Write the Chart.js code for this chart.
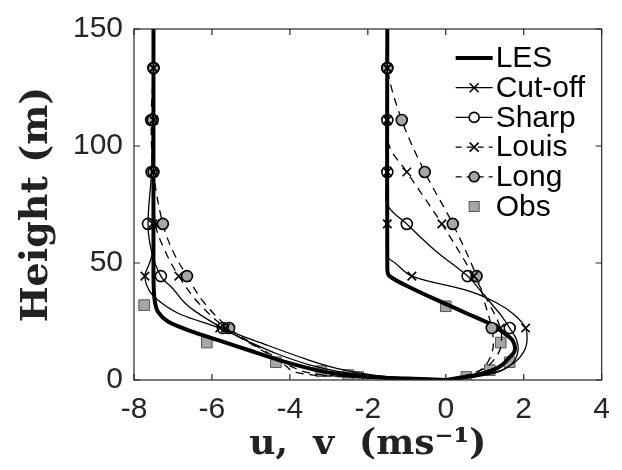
<!DOCTYPE html>
<html>
<head>
<meta charset="utf-8">
<script src="https://cdn.jsdelivr.net/npm/chart.js@4.4.0/dist/chart.umd.min.js"></script>
<style>
  body { margin: 0; background: #fff; }
</style>
</head>
<body>
<canvas id="profileChart" width="622" height="470"></canvas>
<script>
// Axis ticks
const xTicks = [-8, -6, -4, -2, 0, 2, 4];
const yTicks = [0, 50, 100, 150];

// Heights where the model markers are drawn
const markH = [22.2, 44.4, 66.7, 88.9, 111.1, 133.3];

// LES
const lesUh = [150, 45, 38, 33, 29, 25, 21, 16.8, 12.6, 8.4, 4.2, 2, 1, 0.4, 0];
const lesU  = [-7.5, -7.5, -7.49, -7.46, -7.38, -7.13, -6.56, -5.8, -5.03, -4.26, -3.3, -2.5, -1.6, -0.6, 0];
const lesVh = [150, 48, 44.5, 39, 33.6, 28, 24, 20, 16.8, 12.6, 9.7, 6.5, 4.2, 2, 0.8, 0];
const lesV  = [-1.5, -1.5, -1.45, -0.85, -0.15, 0.6, 1.13, 1.5, 1.72, 1.77, 1.64, 1.45, 1.2, 0.75, 0.28, 0];

// Cut-off
const cutUh = [150, 133.3, 111.1, 88.9, 66.7, 55, 50, 44.4, 38, 33, 28, 22.2, 16, 11, 6.5, 3, 1, 0];
const cutU  = [-7.5, -7.5, -7.5, -7.5, -7.52, -7.52, -7.6, -7.72, -7.6, -7.3, -6.8, -5.8, -5.0, -4.3, -3.5, -2.5, -1.2, 0];
const cutVh = [150, 133.3, 111.1, 88.9, 66.7, 53, 50, 44.4, 38, 33, 28, 22.2, 16, 12, 8, 4, 1.5, 0];
const cutV  = [-1.5, -1.5, -1.5, -1.5, -1.5, -1.5, -1.3, -0.87, 0.6, 1.3, 1.75, 2.05, 2.08, 2.0, 1.8, 1.4, 0.7, 0];

// Sharp
const shpUh = [150, 133.3, 111.1, 88.9, 66.7, 55, 44.4, 39, 33, 29, 22.2, 15, 9, 5, 2, 0.7, 0];
const shpU  = [-7.5, -7.5, -7.52, -7.55, -7.64, -7.55, -7.31, -7.0, -6.7, -6.4, -5.72, -4.6, -3.6, -2.8, -1.8, -0.8, 0];
const shpVh = [150, 133.3, 111.1, 88.9, 75, 66.7, 55, 44.4, 38, 33, 28, 22.2, 17, 12, 7, 3.5, 1.2, 0];
const shpV  = [-1.5, -1.5, -1.5, -1.5, -1.5, -1.0, -0.25, 0.56, 0.9, 1.15, 1.4, 1.64, 1.82, 1.85, 1.7, 1.35, 0.7, 0];

// Louis
const lsUh = [150, 133.3, 111.1, 88.9, 66.7, 55, 44.4, 33, 22.2, 15, 10, 6, 3.4, 1.5, 0];
const lsU  = [-7.5, -7.5, -7.5, -7.5, -7.45, -7.2, -6.85, -6.35, -5.65, -4.95, -4.45, -4.1, -3.9, -2.8, 0];
const lsVh = [150, 133.3, 111.1, 100, 88.9, 66.7, 44.4, 33, 22.2, 15, 10, 5, 2, 0];
const lsV  = [-1.5, -1.5, -1.5, -1.45, -1.0, -0.1, 0.72, 1.1, 1.4, 1.42, 1.3, 1.0, 0.55, 0];

// Long
const lngUh = [150, 133.3, 111.1, 88.9, 66.7, 55, 44.4, 33, 22.2, 15, 10, 6, 3, 1.2, 0];
const lngU  = [-7.5, -7.5, -7.56, -7.5, -7.26, -7.0, -6.64, -6.2, -5.56, -4.9, -4.4, -4.0, -3.5, -2.4, 0];
const lngVh = [150, 133.3, 111.1, 88.9, 66.7, 44.4, 33, 22.2, 15, 10, 5, 2, 0];
const lngV  = [-1.5, -1.5, -1.13, -0.54, 0.18, 0.79, 1.0, 1.18, 1.22, 1.15, 0.95, 0.55, 0];

// Observations
const obsUh = [32, 16, 7.6, 3.8, 2.1, 1.3];
const obsU  = [-7.74, -6.13, -4.36, -3.2, -2.5, -2.25];
const obsVh = [31.5, 16, 7.6, 4.2, 1.3];
const obsV  = [0.0, 1.41, 1.64, 1.13, 0.53];

const pts = (xs, hs) => xs.map((x, i) => ({ x: x, y: hs[i] }));
const atMark = r => c => (c.raw && markH.includes(c.raw.y)) ? r : 0;

const GREY = "#a6a6a6";
const DASH = [8, 6];

function model(label, xs, hs, style, dashed, fill) {
  return {
    label: label,
    data: pts(xs, hs),
    borderColor: "#000",
    borderWidth: 1.3,
    borderDash: dashed ? DASH : [],
    tension: 0.35,
    pointStyle: style,
    pointRadius: atMark(style === "crossRot" ? 6 : 5.5),
    pointBorderWidth: 1.6,
    pointBorderColor: "#000",
    pointBackgroundColor: fill,
    fill: false
  };
}

function les(xs, hs) {
  return {
    label: "LES",
    data: pts(xs, hs),
    borderColor: "#000",
    borderWidth: 4,
    tension: 0.3,
    pointRadius: 0,
    fill: false
  };
}

function obs(xs, hs) {
  return {
    label: "Obs",
    data: pts(xs, hs),
    showLine: false,
    pointStyle: "rect",
    pointRadius: 7.5,
    pointBorderWidth: 1,
    pointBorderColor: "#555",
    pointBackgroundColor: GREY
  };
}

const datasets = [
  model("Cut-off", cutU, cutUh, "crossRot", false, "#000"),
  model("Cut-off", cutV, cutVh, "crossRot", false, "#000"),
  model("Sharp", shpU, shpUh, "circle", false, "rgba(0,0,0,0)"),
  model("Sharp", shpV, shpVh, "circle", false, "rgba(0,0,0,0)"),
  model("Louis", lsU, lsUh, "crossRot", true, "#000"),
  model("Louis", lsV, lsVh, "crossRot", true, "#000"),
  model("Long", lngU, lngUh, "circle", true, GREY),
  model("Long", lngV, lngVh, "circle", true, GREY),
  les(lesU, lesUh),
  les(lesV, lesVh),
  obs(obsU, obsUh),
  obs(obsV, obsVh)
];

// Box with inward ticks on all four sides
const frame = {
  id: "frame",
  afterDatasetsDraw(chart) {
    const { ctx, chartArea: a, scales: { x, y } } = chart;
    ctx.save();
    ctx.strokeStyle = "#262626";
    ctx.lineWidth = 1.2;
    ctx.strokeRect(a.left, a.top, a.right - a.left, a.bottom - a.top);
    ctx.beginPath();
    xTicks.forEach(v => {
      const px = x.getPixelForValue(v);
      ctx.moveTo(px, a.bottom); ctx.lineTo(px, a.bottom - 6);
      ctx.moveTo(px, a.top); ctx.lineTo(px, a.top + 6);
    });
    yTicks.forEach(v => {
      const py = y.getPixelForValue(v);
      ctx.moveTo(a.left, py); ctx.lineTo(a.left + 6, py);
      ctx.moveTo(a.right, py); ctx.lineTo(a.right - 6, py);
    });
    ctx.stroke();
    ctx.restore();
  }
};

// Legend drawn inside the top-right corner
const legendItems = [
  { text: "LES", width: 4, dash: [], marker: null },
  { text: "Cut-off", width: 1.3, dash: [], marker: "x" },
  { text: "Sharp", width: 1.3, dash: [], marker: "o" },
  { text: "Louis", width: 1.3, dash: [6, 5], marker: "x" },
  { text: "Long", width: 1.3, dash: [6, 5], marker: "g" },
  { text: "Obs", width: 0, dash: [], marker: "s" }
];

const insideLegend = {
  id: "insideLegend",
  afterDraw(chart) {
    const { ctx, chartArea: a } = chart;
    const x0 = a.right - 146, x1 = a.right - 109, xm = (x0 + x1) / 2;
    ctx.save();
    legendItems.forEach((it, i) => {
      const yy = a.top + 29 + i * 29.7;
      ctx.strokeStyle = "#000";
      if (it.width) {
        ctx.lineWidth = it.width;
        ctx.setLineDash(it.dash);
        ctx.beginPath();
        ctx.moveTo(x0, yy); ctx.lineTo(x1, yy);
        ctx.stroke();
        ctx.setLineDash([]);
      }
      ctx.lineWidth = 1.6;
      if (it.marker === "x") {
        ctx.beginPath();
        ctx.moveTo(xm - 4.5, yy - 4.5); ctx.lineTo(xm + 4.5, yy + 4.5);
        ctx.moveTo(xm - 4.5, yy + 4.5); ctx.lineTo(xm + 4.5, yy - 4.5);
        ctx.stroke();
      } else if (it.marker === "o" || it.marker === "g") {
        ctx.beginPath();
        ctx.arc(xm, yy, 5, 0, Math.PI * 2);
        if (it.marker === "g") { ctx.fillStyle = GREY; ctx.fill(); }
        else { ctx.fillStyle = "#fff"; ctx.fill(); }
        ctx.stroke();
      } else if (it.marker === "s") {
        ctx.fillStyle = GREY;
        ctx.fillRect(xm - 5, yy - 5, 10, 10);
        ctx.strokeStyle = "#555";
        ctx.lineWidth = 1;
        ctx.strokeRect(xm - 5, yy - 5, 10, 10);
      }
      ctx.fillStyle = "#000";
      ctx.font = "30px 'Liberation Sans', Arial, sans-serif";
      ctx.textAlign = "left";
      ctx.textBaseline = "middle";
      ctx.fillText(it.text, x1 + 3, yy + 1);
    });
    ctx.restore();
  }
};

new Chart(document.getElementById("profileChart"), {
  type: "line",
  data: { datasets: datasets },
  options: {
    responsive: false,
    animation: false,
    layout: { padding: { top: 23, right: 20, left: 0, bottom: 0 } },
    plugins: {
      legend: { display: false },
      tooltip: { enabled: false }
    },
    scales: {
      x: {
        type: "linear",
        min: -8,
        max: 4,
        afterFit: s => { s.height = 90; },
        afterBuildTicks: s => { s.ticks = xTicks.map(v => ({ value: v })); },
        grid: { display: false, drawTicks: false },
        border: { display: false },
        ticks: {
          color: "#262626",
          padding: 12,
          font: { family: "'Liberation Sans', Arial, sans-serif", size: 30 }
        },
        title: {
          display: true,
          text: "u,  v  (ms⁻¹)",
          color: "#222",
          padding: { top: 0, bottom: 4 },
          font: { family: "'DejaVu Serif', serif", size: 36, weight: "bold" }
        }
      },
      y: {
        type: "linear",
        min: 0,
        max: 150,
        afterFit: s => { s.width = 134; },
        afterBuildTicks: s => { s.ticks = yTicks.map(v => ({ value: v })); },
        grid: { display: false, drawTicks: false },
        border: { display: false },
        ticks: {
          color: "#262626",
          padding: 11,
          font: { family: "'Liberation Sans', Arial, sans-serif", size: 30 }
        },
        title: {
          display: true,
          text: "Height (m)",
          color: "#222",
          padding: { top: 14, bottom: 0 },
          font: { family: "'DejaVu Serif', serif", size: 38, weight: "bold" }
        }
      }
    }
  },
  plugins: [frame, insideLegend]
});
</script>
</body>
</html>
